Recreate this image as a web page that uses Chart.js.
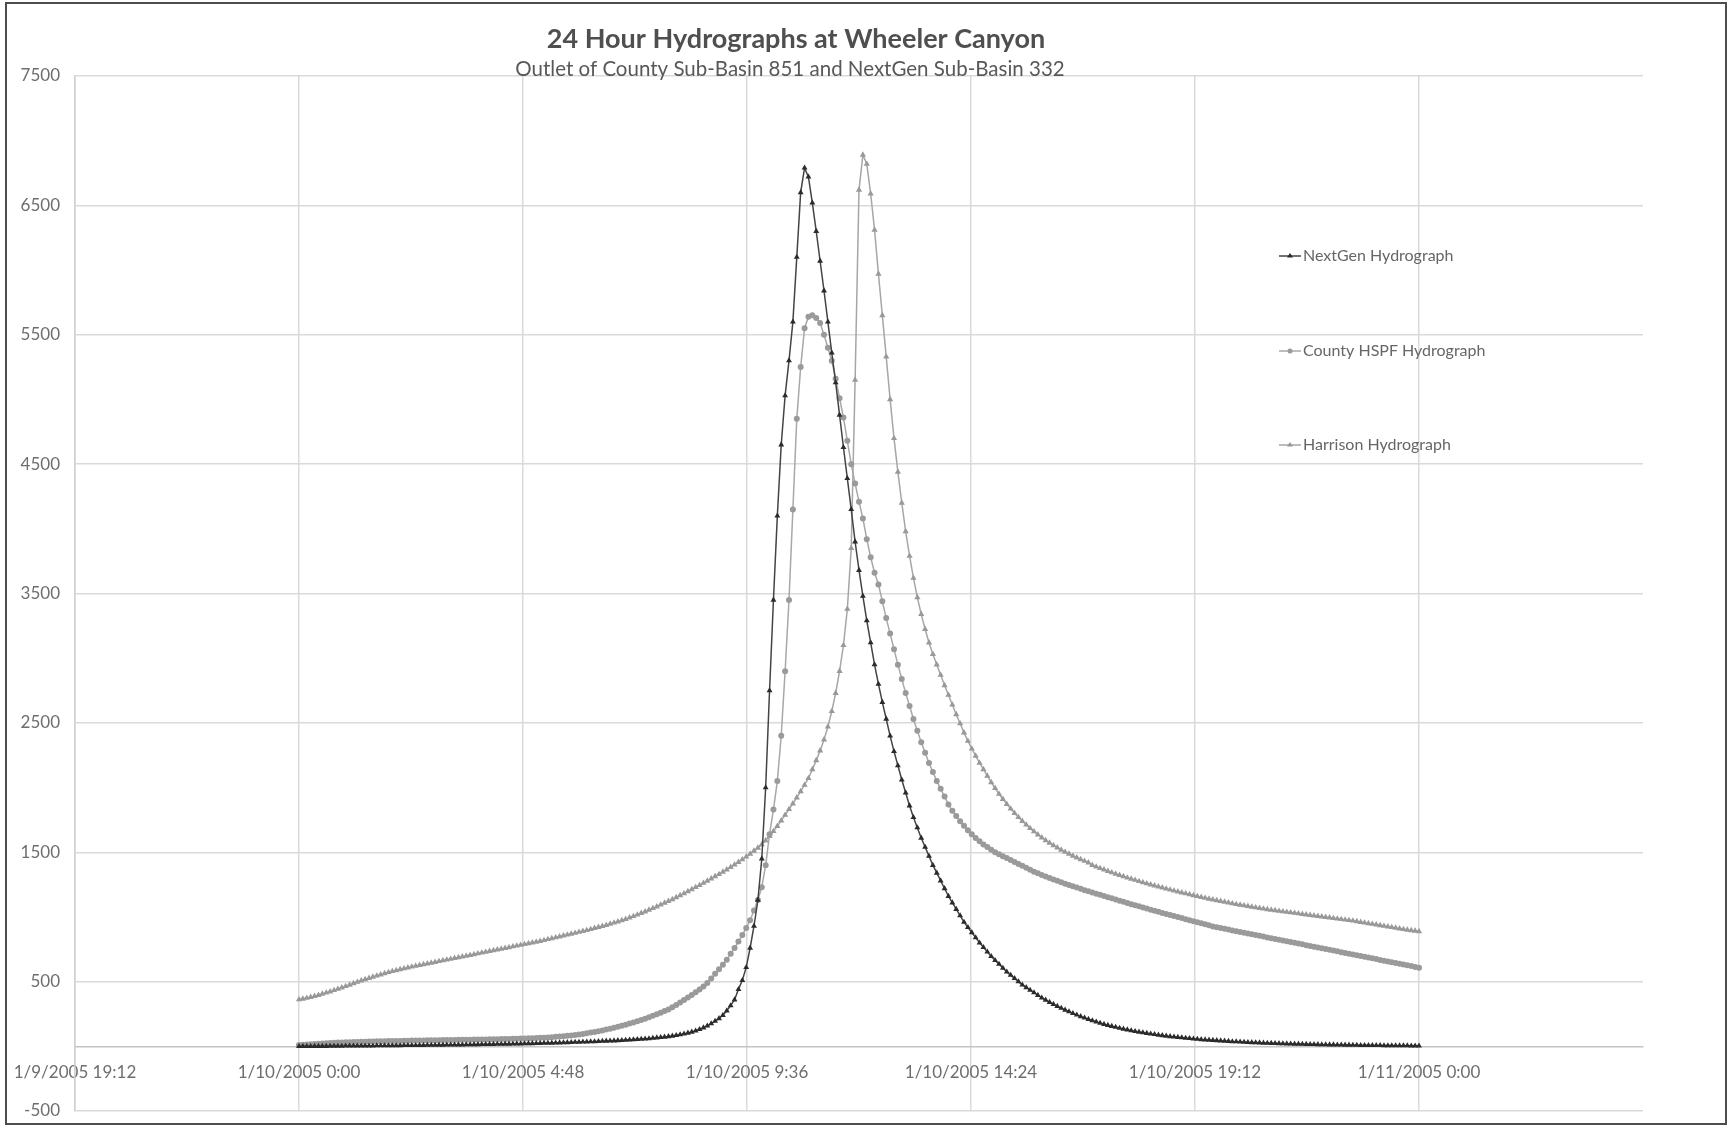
<!DOCTYPE html>
<html>
<head>
<meta charset="utf-8">
<title>24 Hour Hydrographs at Wheeler Canyon</title>
<script src="https://cdn.jsdelivr.net/npm/chart.js@4.4.1/dist/chart.umd.min.js"></script>
<style>
    html, body { margin: 0; padding: 0; background: #fff; }
    .frame { position: absolute; left: 5px; top: 2px; width: 1718px; height: 1119px; border: 2px solid #4d4d4d; background: #fff; }
    canvas { display: block; }
</style>
</head>
<body>
<div class="frame"><canvas id="hydroChart" width="1718" height="1119"></canvas></div>
<script>
// flows in cfs, one value every 5 minutes from 1/10/2005 0:00 to 1/11/2005 0:00
const stepMinutes = 5;

const nextGenFlow = [
    0,0,0,0,1,1,1,1,2,2,2,2,
    3,3,3,3,4,4,4,4,5,5,5,5,
    6,6,6,7,7,7,8,8,8,9,9,9,
    10,10,11,11,11,12,12,13,13,14,14,15,
    15,16,16,17,17,18,18,19,20,20,21,22,
    22,23,24,25,25,26,27,28,29,30,31,32,
    33,34,35,36,37,38,40,41,42,43,45,46,
    48,50,52,54,56,58,60,63,66,69,72,76,
    80,85,90,96,103,111,120,131,144,158,175,195,
    215,240,275,315,360,440,510,610,760,930,1130,1450,
    2000,2750,3450,4100,4650,5030,5300,5600,6100,6600,6790,6720,
    6520,6300,6070,5840,5600,5360,5130,4880,4630,4390,4150,3900,
    3680,3480,3290,3120,2950,2800,2660,2530,2400,2280,2170,2060,
    1960,1860,1770,1690,1610,1540,1470,1400,1340,1280,1220,1160,
    1110,1060,1010,960,920,880,840,800,765,730,695,665,
    635,605,575,550,525,500,475,455,435,415,395,375,
    358,341,325,310,295,281,268,255,243,231,220,209,
    199,189,180,171,163,155,148,141,134,128,122,116,
    111,106,101,96,92,88,84,80,76,73,70,67,
    64,61,58,56,53,51,49,47,45,43,41,39,
    37,36,34,33,31,30,29,28,26,25,24,23,
    22,21,20,19,18,18,17,16,15,15,14,13,
    13,12,12,11,11,10,10,9,9,8,8,8,
    7,7,7,6,6,6,5,5,5,5,4,4,
    4
];

const countyFlow = [
    10,12,14,16,18,20,22,24,26,28,29,30,
    31,32,33,34,35,36,37,38,39,40,40,41,
    41,42,42,43,43,44,44,45,45,46,46,47,
    47,48,48,49,49,50,50,51,51,52,52,53,
    53,54,54,55,56,56,57,58,59,60,61,62,
    63,64,66,67,69,71,73,75,78,81,84,88,
    92,96,101,106,111,117,123,129,136,143,151,159,
    167,176,185,194,204,214,225,236,248,260,272,285,
    302,320,339,358,377,397,418,440,463,490,525,560,
    595,630,670,715,760,810,860,915,975,1050,1130,1230,
    1400,1640,1830,2050,2400,2900,3450,4150,4850,5250,5550,5640,
    5650,5630,5590,5500,5400,5300,5160,5010,4860,4680,4500,4350,
    4210,4080,3920,3780,3660,3570,3440,3310,3190,3070,2950,2840,
    2730,2630,2530,2440,2350,2270,2190,2120,2050,1990,1930,1870,
    1820,1780,1740,1705,1670,1640,1610,1585,1560,1540,1520,1500,
    1485,1470,1455,1440,1425,1410,1395,1380,1365,1350,1337,1325,
    1313,1301,1290,1279,1268,1257,1247,1237,1227,1217,1207,1198,
    1189,1180,1171,1162,1153,1144,1135,1126,1117,1108,1099,1090,
    1082,1073,1065,1056,1048,1040,1031,1023,1015,1007,999,991,
    983,975,967,959,951,943,935,927,920,914,908,902,
    896,890,884,878,872,866,860,854,848,842,836,830,
    824,818,812,806,800,794,788,782,776,770,764,758,
    752,746,740,734,728,722,716,710,704,698,692,686,
    680,674,668,662,656,650,644,638,632,626,620,614,
    608
];

const harrisonFlow = [
    362,367,373,380,388,396,405,414,423,433,443,453,
    464,475,486,497,507,517,527,536,545,554,563,572,
    580,587,594,601,608,615,621,627,633,639,645,651,
    657,663,669,675,681,687,693,699,705,711,717,723,
    729,735,741,747,753,759,765,771,777,783,789,795,
    801,807,813,820,827,834,841,848,855,862,869,876,
    883,890,897,905,913,921,929,937,946,955,964,973,
    983,994,1005,1017,1029,1041,1054,1067,1080,1094,1108,1122,
    1136,1151,1166,1181,1197,1213,1229,1245,1262,1279,1296,1313,
    1330,1348,1366,1385,1404,1424,1444,1465,1487,1510,1534,1560,
    1590,1625,1662,1702,1744,1788,1832,1876,1922,1970,2020,2072,
    2140,2210,2285,2370,2470,2590,2730,2900,3100,3380,3850,5150,
    6620,6890,6820,6590,6310,5970,5650,5330,5000,4700,4440,4200,
    3980,3790,3620,3470,3340,3225,3120,3030,2950,2870,2790,2715,
    2640,2565,2495,2425,2360,2300,2245,2190,2140,2090,2040,1995,
    1950,1910,1872,1836,1802,1770,1740,1712,1685,1660,1636,1613,
    1592,1572,1553,1535,1518,1502,1487,1472,1458,1445,1432,1420,
    1400,1388,1376,1365,1354,1343,1333,1323,1313,1303,1294,1285,
    1276,1267,1258,1250,1242,1234,1226,1218,1210,1202,1195,1188,
    1181,1174,1167,1160,1153,1146,1140,1134,1128,1122,1116,1110,
    1104,1098,1093,1088,1083,1078,1073,1068,1063,1058,1054,1050,
    1046,1042,1038,1034,1030,1026,1022,1018,1014,1010,1006,1002,
    998,994,990,986,982,978,974,970,965,960,955,950,
    945,940,935,930,925,920,915,910,905,900,896,892,
    888
];

const seriesNames = ['NextGen Hydrograph', 'County HSPF Hydrograph', 'Harrison Hydrograph'];

// x axis is minutes after 1/10/2005 0:00
const xTickMinutes = [-288, 0, 288, 576, 864, 1152, 1440];
const xTickLabels = ['1/9/2005 19:12', '1/10/2005 0:00', '1/10/2005 4:48', '1/10/2005 9:36',
                     '1/10/2005 14:24', '1/10/2005 19:12', '1/11/2005 0:00'];
const xMin = -288, xMax = 1728;
const yMin = -500, yMax = 7500, yStep = 1000;

const chartTitle = '24 Hour Hydrographs at Wheeler Canyon';
const chartSubtitle = 'Outlet of County Sub-Basin 851 and NextGen Sub-Basin 332';

function toPoints(values) {
    return values.map((v, i) => ({ x: i * stepMinutes, y: v }));
}

// title sits a bit left of centre, like the Excel original
const titlePlugin = {
    id: 'sheetTitle',
    afterDraw(chart) {
        const ctx = chart.ctx;
        ctx.save();
        ctx.textAlign = 'center';
        ctx.textBaseline = 'middle';
        ctx.fillStyle = '#4f4f4f';
        ctx.font = 'bold 27px Lato';
        ctx.fillText(chartTitle, 789, 35);
        ctx.fillStyle = '#585858';
        ctx.font = '20.5px Lato';
        ctx.fillText(chartSubtitle, 783, 65);
        ctx.restore();
    }
};

// legend floats inside the plot area on the right
const floatLegend = {
    id: 'floatLegend',
    afterDraw(chart) {
        const ctx = chart.ctx;
        const rows = [252, 347, 441];
        const x0 = 1272;
        ctx.save();
        chart.data.datasets.forEach((ds, i) => {
            const y = rows[i];
            ctx.strokeStyle = ds.borderColor;
            ctx.lineWidth = 1.5;
            ctx.beginPath();
            ctx.moveTo(x0, y);
            ctx.lineTo(x0 + 22, y);
            ctx.stroke();
            ctx.fillStyle = ds.pointBackgroundColor;
            ctx.beginPath();
            if (ds.pointStyle === 'circle') {
                ctx.arc(x0 + 11, y, 2.5, 0, Math.PI * 2);
            } else {
                ctx.moveTo(x0 + 11, y - 3);
                ctx.lineTo(x0 + 14, y + 1.5);
                ctx.lineTo(x0 + 8, y + 1.5);
                ctx.closePath();
            }
            ctx.fill();
            ctx.fillStyle = '#666666';
            ctx.font = '16px Lato';
            ctx.textAlign = 'left';
            ctx.textBaseline = 'middle';
            ctx.fillText(ds.label, x0 + 24, y);
        });
        ctx.restore();
    }
};

const ctx = document.getElementById('hydroChart').getContext('2d');
new Chart(ctx, {
    type: 'line',
    data: {
        datasets: [
            {
                label: seriesNames[0],
                data: toPoints(nextGenFlow),
                borderColor: '#444444',
                pointBackgroundColor: '#2b2b2b',
                pointStyle: 'triangle',
                borderWidth: 1.5,
                pointRadius: 3.4,
                pointBorderWidth: 0
            },
            {
                label: seriesNames[1],
                data: toPoints(countyFlow),
                borderColor: '#a8a8a8',
                pointBackgroundColor: '#9a9a9a',
                pointStyle: 'circle',
                borderWidth: 1.5,
                pointRadius: 3.0,
                pointBorderWidth: 0
            },
            {
                label: seriesNames[2],
                data: toPoints(harrisonFlow),
                borderColor: '#a6a6a6',
                pointBackgroundColor: '#999999',
                pointStyle: 'triangle',
                borderWidth: 1.5,
                pointRadius: 3.6,
                pointBorderWidth: 0
            }
        ]
    },
    options: {
        responsive: false,
        animation: false,
        devicePixelRatio: 1,
        layout: { padding: { top: 72, right: 82, bottom: 12, left: 0 } },
        plugins: {
            legend: { display: false },
            title: { display: false },
            tooltip: { enabled: false }
        },
        scales: {
            x: {
                type: 'linear',
                position: { y: 0 },
                min: xMin,
                max: xMax,
                afterBuildTicks: (scale) => {
                    scale.ticks = xTickMinutes.map(v => ({ value: v }));
                },
                afterFit: (scale) => {
                    scale.paddingLeft = 0;
                    scale.paddingRight = 0;
                },
                ticks: {
                    autoSkip: false,
                    maxRotation: 0,
                    padding: 16,
                    color: '#6e6e6e',
                    font: { family: 'Lato', size: 17 },
                    callback: (value) => xTickLabels[xTickMinutes.indexOf(value)]
                },
                grid: { color: '#dadada', lineWidth: 1.5, drawTicks: false },
                border: { color: '#c4c4c4', width: 1.5 }
            },
            y: {
                position: 'left',
                min: yMin,
                max: yMax,
                afterFit: (scale) => {
                    scale.width = 68;
                    scale.paddingTop = 9;
                    scale.paddingBottom = 9;
                },
                ticks: {
                    stepSize: yStep,
                    padding: 15,
                    color: '#6e6e6e',
                    font: { family: 'Lato', size: 17 },
                    callback: (value) => String(value)
                },
                grid: { color: '#dadada', lineWidth: 1.5, drawTicks: false },
                border: { color: '#d0d0d0', width: 1.5 }
            }
        }
    },
    plugins: [titlePlugin, floatLegend]
});
</script>
</body>
</html>
